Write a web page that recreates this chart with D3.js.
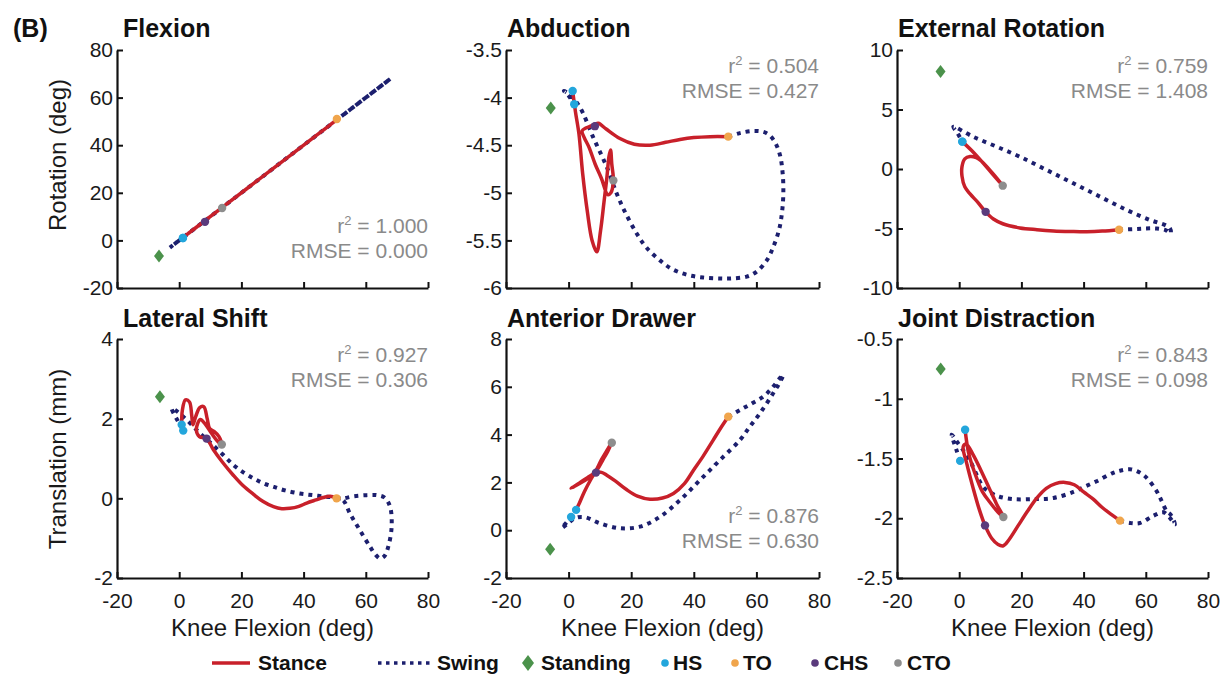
<!DOCTYPE html>
<html><head><meta charset="utf-8">
<script src="https://cdn.jsdelivr.net/npm/d3@7"></script>
<style>
html,body{margin:0;padding:0;background:#fff;}
svg{display:block;font-family:"Liberation Sans",Arial,Helvetica,sans-serif;}
</style></head><body>
<svg id="chart" width="1224" height="677"></svg>
<script>
// ---------- data ----------
const panelTitles = ["Flexion", "Abduction", "External Rotation", "Lateral Shift", "Anterior Drawer", "Joint Distraction"];
const rowYLabels = ["Rotation (deg)", "Translation (mm)"];
const xLabel = "Knee Flexion (deg)";
const xTicks = [-20, 0, 20, 40, 60, 80];
const yDomains = [[-20, 80], [-6, -3.5], [-10, 10], [-2, 4], [-2, 8], [-2.5, -0.5]];
const yTicks = [
  [-20, 0, 20, 40, 60, 80],
  [-6, -5.5, -5, -4.5, -4, -3.5],
  [-10, -5, 0, 5, 10],
  [-2, 0, 2, 4],
  [-2, 0, 2, 4, 6, 8],
  [-2.5, -2, -1.5, -1, -0.5]
];
const r2Values = ["1.000", "0.504", "0.759", "0.927", "0.876", "0.843"];
const rmseValues = ["0.000", "0.427", "1.408", "0.306", "0.630", "0.098"];
const legendLabels = ["Stance", "Swing", "Standing", "HS", "TO", "CHS", "CTO"];

// knee flexion (x) vs. joint motion (y), stance phase HS -> TO and swing phase TO -> HS
const flexionStance = [[1.2,1.2],[5,5],[9,9],[13.8,13.8],[11,11],[7,7],[4,4],[3,3],[5,5],[8.3,8.3],[15,15],[25,25],[35,35],[44,44],[50.7,50.7]];
const flexionSwing = [[50.7,50.7],[56,56],[62,62],[66,66],[68,68],[66,66],[55,55],[40,40],[25,25],[12,12],[3,3],[-1,-1],[-3,-3],[-1.5,-1.5],[1.2,1.2]];
const flexionEvents = [["Standing",-6.5,-6.6],["HS",1.2,1.0],["HS",1.2,1.0],["TO",50.7,51],["CHS",8.3,7.8],["CTO",13.8,13.6]];

const abductionStance = [[1.3,-3.93],[2.2,-4.15],[3.3,-4.38],[4.5,-4.8],[6,-5.2],[7.5,-5.5],[9,-5.62],[10.2,-5.4],[11.3,-5.1],[12.2,-4.85],[12.9,-4.62],[13.4,-4.55],[13.8,-4.7],[14.3,-4.87],[13.5,-5.0],[12.5,-5.02],[10.5,-4.85],[8.5,-4.7],[6.5,-4.52],[5,-4.42],[4.3,-4.35],[5.5,-4.32],[7,-4.3],[8.4,-4.28],[9.5,-4.27],[12,-4.33],[16.4,-4.43],[21,-4.49],[26,-4.5],[31,-4.47],[35.6,-4.44],[40,-4.42],[45.2,-4.41],[51,-4.41]];
const abductionSwing = [[51,-4.41],[55,-4.37],[59.6,-4.35],[63,-4.37],[65.6,-4.45],[67.5,-4.6],[68.4,-4.8],[68.6,-5.01],[68.2,-5.2],[67.3,-5.38],[65.5,-5.56],[63.3,-5.71],[60,-5.83],[56.9,-5.88],[52,-5.9],[48.4,-5.9],[43,-5.89],[37.7,-5.86],[33,-5.8],[29.2,-5.71],[25,-5.58],[21.8,-5.43],[18,-5.2],[15.4,-5.01],[12.2,-4.73],[7.9,-4.42],[3.6,-4.1],[0.5,-3.97],[-1.5,-3.93],[0,-3.98],[1.8,-4.07]];
const abductionEvents = [["Standing",-5.7,-4.11],["HS",1.3,-3.93],["HS",1.8,-4.07],["TO",51,-4.41],["CHS",8.4,-4.3],["CTO",14.3,-4.87]];

const extRotationStance = [[1.0,2.3],[4,1.55],[7,0.7],[10,-0.2],[12.5,-0.95],[14,-1.4],[12,-0.75],[9.5,0.0],[7.2,0.65],[5.5,0.95],[3.5,1.05],[1.8,0.85],[0.9,0.2],[0.9,-0.6],[1.8,-1.5],[3.5,-2.1],[6,-2.8],[8.5,-3.6],[11,-4.2],[14,-4.6],[19.5,-4.95],[25,-5.1],[30.3,-5.2],[36,-5.25],[41,-5.27],[46,-5.22],[51.4,-5.1]];
const extRotationSwing = [[51.4,-5.1],[56,-5.05],[60,-5.0],[63.5,-5.0],[66.5,-5.15],[68,-5.4],[67.8,-5.0],[66.5,-4.75],[61.4,-4.29],[53.9,-3.45],[45.3,-2.33],[36.7,-1.2],[28.1,-0.08],[19.5,1.03],[12.1,1.87],[4.5,2.71],[-1.9,3.55],[-0.5,3.0],[1.0,2.3]];
const extRotationEvents = [["Standing",-6,8.2],["HS",1.0,2.3],["HS",1.0,2.3],["TO",51.4,-5.1],["CHS",8.5,-3.6],["CTO",14,-1.4]];

const lateralShiftStance = [[0.8,1.85],[1.0,2.2],[2.0,2.47],[3.3,2.42],[4.0,2.1],[4.4,1.85],[5.3,2.05],[6.6,2.28],[7.9,2.3],[9.0,2.0],[9.8,1.75],[11.2,1.68],[12.8,1.55],[13.7,1.35],[12.5,1.42],[10.5,1.62],[8.5,1.85],[6.8,1.98],[5.5,1.72],[6.5,1.55],[8.8,1.5],[11,1.22],[14,0.9],[17.4,0.58],[20.5,0.32],[23.9,0.1],[27,-0.08],[30.3,-0.21],[33,-0.26],[35.6,-0.25],[38.5,-0.2],[41,-0.12],[44,-0.04],[46.3,0.02],[48.5,0.05],[50.6,0.0]];
const lateralShiftSwing = [[50.6,0.0],[52.7,0.0],[56,0.05],[60.3,0.08],[63.5,0.08],[66,0.02],[67.8,-0.21],[68.3,-0.72],[67.2,-1.22],[66,-1.45],[64.6,-1.51],[63,-1.4],[61.4,-1.22],[58.1,-0.8],[54.9,-0.38],[52.7,-0.05],[50,0.02],[47.4,0.04],[43,0.08],[38.8,0.12],[34,0.2],[30.3,0.29],[27,0.38],[23.9,0.5],[20.5,0.66],[17.4,0.84],[14,1.1],[10,1.4],[6.7,1.63],[4,1.85],[1.3,2.05],[-1,2.2],[-2.4,2.26],[-0.5,1.95],[1.3,1.7]];
const lateralShiftEvents = [["Standing",-6.2,2.55],["HS",0.8,1.85],["HS",1.3,1.7],["TO",50.6,0.0],["CHS",8.8,1.5],["CTO",13.7,1.35]];

const antDrawerStance = [[2.4,0.85],[3.5,1.15],[5,1.6],[7,2.1],[8.8,2.5],[10.5,2.95],[12.3,3.35],[13.8,3.66],[12.5,3.3],[11,2.95],[9.5,2.6],[8,2.35],[6,2.15],[3.5,1.95],[0.8,1.75],[3.5,1.98],[6,2.2],[8.75,2.41],[10.5,2.42],[12.2,2.3],[15,2.05],[18.6,1.69],[22,1.43],[26,1.3],[30,1.35],[33.5,1.54],[37,1.95],[39.9,2.51],[43,3.1],[46.2,3.77],[48.7,4.3],[51,4.75]];
const antDrawerSwing = [[51,4.75],[54.8,5.03],[58.5,5.3],[62.2,5.59],[65,5.95],[67.5,6.36],[68.6,6.5],[67.3,6.15],[65.4,5.74],[61.2,4.9],[58,4.35],[54.8,3.78],[48.4,2.94],[42,2.1],[35.6,1.26],[29.2,0.56],[22.8,0.15],[16.4,0.08],[10,0.29],[5,0.55],[2,0.5],[-0.5,0.25],[-2.2,0.08],[-0.5,0.35],[0.8,0.55]];
const antDrawerEvents = [["Standing",-5.9,-0.8],["HS",2.4,0.85],["HS",0.8,0.55],["TO",51,4.75],["CHS",8.75,2.41],["CTO",13.8,3.66]];

const distractionStance = [[1.9,-1.26],[3,-1.45],[5,-1.62],[7.5,-1.78],[10,-1.87],[12.5,-1.95],[14.2,-1.99],[12,-1.88],[9.5,-1.74],[7,-1.6],[4.5,-1.47],[2.3,-1.38],[1.3,-1.4],[2.5,-1.55],[4.5,-1.75],[6.5,-1.93],[8.3,-2.06],[10.5,-2.17],[12.5,-2.22],[14.2,-2.23],[16,-2.18],[19,-2.06],[22,-1.94],[25,-1.83],[28,-1.75],[31,-1.71],[34,-1.7],[37,-1.72],[40,-1.78],[43.1,-1.84],[46,-1.91],[49,-1.97],[51.7,-2.02]];
const distractionSwing = [[51.7,-2.02],[55,-2.04],[58.1,-2.04],[62.4,-1.98],[65.6,-1.95],[67.5,-1.99],[69.4,-2.05],[68,-1.97],[66.7,-1.94],[65,-1.85],[63.4,-1.77],[60.2,-1.66],[57.5,-1.61],[54.9,-1.59],[52,-1.6],[49.5,-1.62],[44.2,-1.69],[40,-1.74],[36.7,-1.78],[30.3,-1.83],[23.8,-1.84],[17.4,-1.84],[13,-1.82],[11,-1.8],[7.8,-1.74],[5.5,-1.63],[3.5,-1.52],[1,-1.42],[-1,-1.35],[-2.4,-1.3],[-1,-1.42],[0.3,-1.52]];
const distractionEvents = [["Standing",-5.95,-0.75],["HS",1.9,-1.26],["HS",0.3,-1.52],["TO",51.7,-2.02],["CHS",8.3,-2.06],["CTO",14.2,-1.99]];

const stanceSeries = [flexionStance, abductionStance, extRotationStance, lateralShiftStance, antDrawerStance, distractionStance];
const swingSeries = [flexionSwing, abductionSwing, extRotationSwing, lateralShiftSwing, antDrawerSwing, distractionSwing];
const eventSeries = [flexionEvents, abductionEvents, extRotationEvents, lateralShiftEvents, antDrawerEvents, distractionEvents];

// ---------- styling ----------
const colors = {
  stance: "#c8202a", swing: "#1c1f6e", Standing: "#4b924b",
  HS: "#23a6dc", TO: "#f0a54c", CHS: "#5a3a7c", CTO: "#8d8d8d", stats: "#8a8a8a"
};
const FONT = '"Liberation Sans", Arial, Helvetica, sans-serif';

// ---------- layout ----------
const colLeft = [117, 506, 897];
const colRight = [428, 819, 1208];
const rowTop = [50, 339];
const rowBottom = [288, 578];
const titleX = [123, 507, 898];
const titleBase = [37, 327];
const statsAtBottom = [true, false, false, false, true, false];

const svg = d3.select("#chart");

svg.append("text").attr("x", 13).attr("y", 37)
  .attr("font-size", 25).attr("font-weight", "bold").attr("fill", "#111").text("(B)");

const eventOrder = ["Standing", "HS", "TO", "CHS", "CTO"];

panelTitles.forEach((title, i) => {
  const row = Math.floor(i / 3), col = i % 3;
  const x = d3.scaleLinear().domain([-20, 80]).range([colLeft[col], colRight[col]]);
  const y = d3.scaleLinear().domain(yDomains[i]).range([rowBottom[row], rowTop[row]]);
  const g = svg.append("g");

  // title
  g.append("text").attr("x", titleX[col]).attr("y", titleBase[row])
    .attr("font-size", 25).attr("font-weight", "bold").attr("fill", "#111").text(title);

  // axes with inward ticks
  const yAxis = d3.axisLeft(y).tickValues(yTicks[i]).tickSizeInner(-6).tickSizeOuter(0)
    .tickPadding(4).tickFormat(d => String(d));
  const xAxis = d3.axisBottom(x).tickValues(xTicks).tickSizeInner(-6).tickSizeOuter(0)
    .tickPadding(15).tickFormat(d => row === 1 ? String(d) : "");
  const ya = g.append("g").attr("transform", `translate(${colLeft[col]},0)`).call(yAxis);
  const xa = g.append("g").attr("transform", `translate(0,${rowBottom[row]})`).call(xAxis);
  [ya, xa].forEach(a => {
    a.select(".domain").attr("stroke", "#111").attr("stroke-width", 2.2);
    a.selectAll(".tick line").attr("stroke", "#111").attr("stroke-width", 2);
    a.selectAll(".tick text").attr("font-size", 21).attr("font-family", FONT).attr("fill", "#1a1a1a");
  });

  // curves
  const line = d3.line().x(d => x(d[0])).y(d => y(d[1])).curve(d3.curveCatmullRom.alpha(0.5));
  g.append("path").datum(swingSeries[i]).attr("d", line)
    .attr("fill", "none").attr("stroke", colors.swing).attr("stroke-width", 4)
    .attr("stroke-dasharray", "4,5");
  g.append("path").datum(stanceSeries[i]).attr("d", line)
    .attr("fill", "none").attr("stroke", colors.stance).attr("stroke-width", 3.5)
    .attr("stroke-linejoin", "round").attr("stroke-linecap", "round");

  // gait events
  const ev = eventSeries[i].slice().sort((a, b) => eventOrder.indexOf(a[0]) - eventOrder.indexOf(b[0]));
  ev.forEach(e => {
    const px = x(e[1]), py = y(e[2]);
    if (e[0] === "Standing") {
      g.append("path").attr("d", `M${px},${py - 6.5}L${px + 5},${py}L${px},${py + 6.5}L${px - 5},${py}Z`)
        .attr("fill", colors.Standing);
    } else {
      g.append("circle").attr("cx", px).attr("cy", py).attr("r", 4.2).attr("fill", colors[e[0]]);
    }
  });

  // fit statistics
  const b1 = statsAtBottom[i] ? rowBottom[row] - 55 : rowTop[row] + 23;
  const st = g.append("g").attr("font-size", 21).attr("fill", colors.stats).attr("text-anchor", "end");
  const t1 = st.append("text").attr("x", colRight[col]).attr("y", b1);
  t1.append("tspan").text("r");
  t1.append("tspan").attr("font-size", 13).attr("dy", -8).text("2");
  t1.append("tspan").attr("dy", 8).text(" = " + r2Values[i]);
  st.append("text").attr("x", colRight[col]).attr("y", b1 + 25).text("RMSE = " + rmseValues[i]);

  // axis labels
  if (col === 0) {
    const cy = row === 0 ? 155 : 459;
    svg.append("text").attr("transform", `translate(66,${cy}) rotate(-90)`)
      .attr("text-anchor", "middle").attr("font-size", 24).attr("fill", "#1a1a1a").text(rowYLabels[row]);
  }
  if (row === 1) {
    svg.append("text").attr("x", (colLeft[col] + colRight[col]) / 2).attr("y", 636)
      .attr("text-anchor", "middle").attr("font-size", 24).attr("fill", "#1a1a1a").text(xLabel);
  }
});

// ---------- legend ----------
const leg = svg.append("g").attr("font-size", 21).attr("font-weight", "bold").attr("fill", "#111");
const ly = 663;
leg.append("line").attr("x1", 212).attr("x2", 250).attr("y1", ly).attr("y2", ly)
  .attr("stroke", colors.stance).attr("stroke-width", 3.5);
leg.append("text").attr("x", 258).attr("y", ly + 7).text(legendLabels[0]);
leg.append("line").attr("x1", 378).attr("x2", 430).attr("y1", ly).attr("y2", ly)
  .attr("stroke", colors.swing).attr("stroke-width", 3.5).attr("stroke-dasharray", "3.5,4.5");
leg.append("text").attr("x", 437).attr("y", ly + 7).text(legendLabels[1]);
leg.append("path").attr("d", `M528,${ly - 8}L534,${ly}L528,${ly + 8}L522,${ly}Z`).attr("fill", colors.Standing);
leg.append("text").attr("x", 541).attr("y", ly + 7).text(legendLabels[2]);
const dotItems = [[665, 673, "HS"], [735, 743, "TO"], [815, 824, "CHS"], [898, 907, "CTO"]];
dotItems.forEach(([cx, tx, key]) => {
  leg.append("circle").attr("cx", cx).attr("cy", ly).attr("r", 3.8).attr("fill", colors[key]);
  leg.append("text").attr("x", tx).attr("y", ly + 7).text(legendLabels[legendLabels.indexOf(key)]);
});
</script>
</body></html>
